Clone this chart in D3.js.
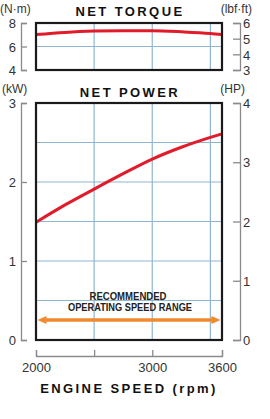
<!DOCTYPE html>
<html>
<head>
<meta charset="utf-8">
<script src="https://cdn.jsdelivr.net/npm/d3@7"></script>
<style>
  body { margin: 0; background: #fff; }
  svg text { font-family: "Liberation Sans", Arial, sans-serif; }
  .num { font-size: 13px; fill: #333; }
  .unit { font-size: 12px; fill: #333; }
  .title { font-size: 13px; font-weight: bold; fill: #111; letter-spacing: 2.4px; }
  .rec { font-family: "Liberation Sans Narrow", "Liberation Sans", sans-serif; font-size: 11px; font-weight: bold; fill: #222; }
</style>
</head>
<body>
<div class="chart"></div>
<script>
// chart data
var rpm = [2000, 2250, 2500, 2750, 3000, 3250, 3500, 3600];
var torqueNm = [7.02, 7.20, 7.31, 7.35, 7.34, 7.25, 7.11, 7.02];
var powerKw = [1.49, 1.71, 1.91, 2.105, 2.29, 2.44, 2.565, 2.61];

var rpmTicks = [2000, 2500, 3000, 3600];
var rpmLabels = ["2000", "", "3000", "3600"];
var rpmGrid = [2500, 3000, 3500];
var nmTicks = [4, 6, 8];
var lbfTicks = [3, 4, 5, 6];
var kwTicks = [0, 1, 2, 3];
var hpTicks = [0, 1, 2, 3, 4];
var nmGrid = [6];
var kwGrid = [0.5, 1, 1.5, 2, 2.5];
var speedRange = [2000, 3600];

var svgWidth = 270;
var svgHeight = 419;

var svg = d3.select(".chart")
    .append("svg")
    .attr("width", svgWidth)
    .attr("height", svgHeight);

var left = 36, right = 222;
var x = d3.scaleLinear().domain([2000, 3600]).range([left, right]);

// torque panel scales
var tTop = 23, tBot = 70;
var yNm = d3.scaleLinear().domain([4, 8]).range([tBot, tTop]);
var yLbf = d3.scaleLinear().domain([3, 6]).range([tBot, tTop]);

// power panel scales
var pTop = 103, pBot = 340;
var yKw = d3.scaleLinear().domain([0, 3]).range([pBot, pTop]);
var yHp = d3.scaleLinear().domain([0, 4]).range([pBot, pTop]);

var gridColor = "#8fb6d0";
var axisColor = "#8a8a8a";

function panel(yTop, yBot, yScale, hGrid, values) {
    var g = svg.append("g");
    g.selectAll("line.vg").data(rpmGrid).enter().append("line")
        .attr("x1", d => x(d)).attr("x2", d => x(d))
        .attr("y1", yTop).attr("y2", yBot)
        .attr("stroke", gridColor).attr("stroke-width", 1.2);
    g.selectAll("line.hg").data(hGrid).enter().append("line")
        .attr("x1", left).attr("x2", right)
        .attr("y1", d => yScale(d)).attr("y2", d => yScale(d))
        .attr("stroke", gridColor).attr("stroke-width", 1.2);

    var line = d3.line()
        .x((d, i) => x(rpm[i]))
        .y(d => yScale(d))
        .curve(d3.curveMonotoneX);
    g.append("path")
        .datum(values)
        .attr("d", line)
        .attr("fill", "none")
        .attr("stroke", "#e11b2a")
        .attr("stroke-width", 3);

    g.append("rect")
        .attr("x", left).attr("y", yTop)
        .attr("width", right - left).attr("height", yBot - yTop)
        .attr("fill", "none")
        .attr("stroke", "#1a1a1a")
        .attr("stroke-width", 2.2);
    return g;
}

panel(tTop, tBot, yNm, nmGrid, torqueNm);
panel(pTop, pBot, yKw, kwGrid, powerKw);

// bracket-style axes
function leftAxis(scale, ticks) {
    var a = svg.append("g")
        .attr("transform", "translate(21,0)")
        .call(d3.axisRight(scale).tickValues(ticks).tickSize(6).tickSizeOuter(6).tickFormat(d3.format("d")));
    a.select(".domain").attr("stroke", axisColor).attr("stroke-width", 1.3);
    a.selectAll(".tick line").attr("stroke", axisColor).attr("stroke-width", 1.3);
    a.selectAll(".tick text").attr("x", -5).attr("dy", "0.36em")
        .attr("text-anchor", "end").attr("class", "num").attr("fill", null);
}
function rightAxis(scale, ticks) {
    var a = svg.append("g")
        .attr("transform", "translate(240,0)")
        .call(d3.axisLeft(scale).tickValues(ticks).tickSize(7).tickSizeOuter(7).tickFormat(d3.format("d")));
    a.select(".domain").attr("stroke", axisColor).attr("stroke-width", 1.3);
    a.selectAll(".tick line").attr("stroke", axisColor).attr("stroke-width", 1.3);
    a.selectAll(".tick text").attr("x", 3).attr("dy", "0.36em")
        .attr("text-anchor", "start").attr("class", "num").attr("fill", null);
}
leftAxis(yNm, nmTicks);
rightAxis(yLbf, lbfTicks);
leftAxis(yKw, kwTicks);
rightAxis(yHp, hpTicks);

var bottom = svg.append("g")
    .attr("transform", "translate(0,356)")
    .call(d3.axisTop(x).tickValues(rpmTicks).tickSize(6).tickSizeOuter(6)
        .tickFormat((d, i) => rpmLabels[i]));
bottom.select(".domain").attr("stroke", axisColor).attr("stroke-width", 1.3);
bottom.selectAll(".tick line").attr("stroke", axisColor).attr("stroke-width", 1.3);
bottom.selectAll(".tick text").attr("y", 16).attr("dy", 0)
    .attr("class", "num").attr("fill", null);

// titles and units
svg.append("text").attr("class", "title").attr("x", 130).attr("y", 16)
    .attr("text-anchor", "middle").text("NET TORQUE");
svg.append("text").attr("class", "title").attr("x", 130).attr("y", 97)
    .attr("text-anchor", "middle").text("NET POWER");
svg.append("text").attr("class", "title").attr("x", 129).attr("y", 393)
    .attr("text-anchor", "middle").text("ENGINE SPEED (rpm)");

svg.append("text").attr("class", "unit").attr("x", 0).attr("y", 13).text("(N·m)");
svg.append("text").attr("class", "unit").attr("x", 252).attr("y", 13)
    .attr("text-anchor", "end").text("(lbf·ft)");
svg.append("text").attr("class", "unit").attr("x", 2).attr("y", 93).text("(kW)");
svg.append("text").attr("class", "unit").attr("x", 245).attr("y", 93)
    .attr("text-anchor", "end").text("(HP)");

// recommended operating range
svg.append("text").attr("class", "rec").attr("x", 128).attr("y", 299.5)
    .attr("text-anchor", "middle")
    .attr("textLength", 77).attr("lengthAdjust", "spacingAndGlyphs")
    .text("RECOMMENDED");
svg.append("text").attr("class", "rec").attr("x", 130).attr("y", 311)
    .attr("text-anchor", "middle")
    .attr("textLength", 124).attr("lengthAdjust", "spacingAndGlyphs")
    .text("OPERATING SPEED RANGE");

var arrowY = 320;
var ax0 = x(speedRange[0]) + 1.5, ax1 = x(speedRange[1]) - 1.5;
var orange = "#f08a2c";
svg.append("line")
    .attr("x1", ax0 + 6).attr("x2", ax1 - 6)
    .attr("y1", arrowY).attr("y2", arrowY)
    .attr("stroke", orange).attr("stroke-width", 3.5);
svg.append("path")
    .attr("d", `M${ax0},${arrowY}L${ax0 + 9},${arrowY - 4}L${ax0 + 9},${arrowY + 4}Z`)
    .attr("fill", orange);
svg.append("path")
    .attr("d", `M${ax1},${arrowY}L${ax1 - 9},${arrowY - 4}L${ax1 - 9},${arrowY + 4}Z`)
    .attr("fill", orange);
</script>
</body>
</html>
